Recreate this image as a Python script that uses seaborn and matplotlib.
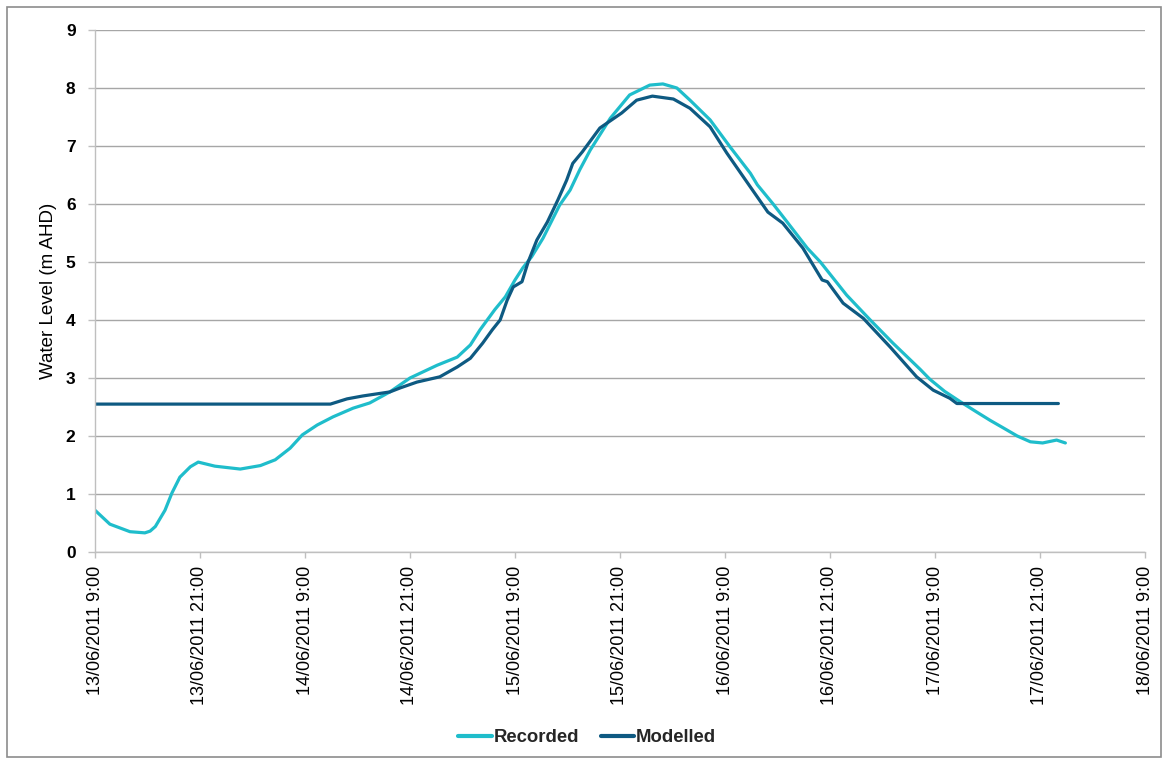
import matplotlib
matplotlib.use("Agg")
import matplotlib.pyplot as plt
import matplotlib.dates as mdates
from matplotlib.patches import Rectangle
from matplotlib.ticker import FuncFormatter
import numpy as np
import pandas as pd
import seaborn as sns

# Hours after 13/06/2011 9:00 and water level (m AHD)
recorded_hours = [0.0, 1.7, 4.0, 5.7, 6.3, 6.9, 8.0, 8.8, 9.7, 10.9, 11.8, 13.7,
                  16.6, 18.9, 20.6, 22.3, 23.7, 25.4, 27.2, 29.5, 31.4, 33.7,
                  36.0, 39.1, 41.4, 42.9, 44.0, 45.7, 46.9, 48.0, 48.9, 49.9,
                  51.2, 53.1, 54.3, 55.4, 56.6, 58.9, 61.1, 63.4, 64.9, 66.5,
                  68.0, 70.3, 72.6, 74.9, 75.7, 77.5, 79.1, 81.4, 82.9, 85.9,
                  88.6, 91.2, 94.3, 95.4, 97.1, 98.9, 100.8, 102.3, 103.8,
                  105.4, 106.9, 108.3, 109.9, 110.9]
recorded_level = [0.72, 0.48, 0.35, 0.33, 0.36, 0.44, 0.72, 1.02, 1.29, 1.47, 1.55, 1.48,
                  1.43, 1.49, 1.59, 1.79, 2.02, 2.19, 2.33, 2.48, 2.57, 2.76,
                  3.00, 3.22, 3.36, 3.57, 3.83, 4.18, 4.40, 4.69, 4.90, 5.09,
                  5.41, 5.98, 6.24, 6.59, 6.93, 7.48, 7.88, 8.05, 8.07, 8.00,
                  7.79, 7.45, 6.98, 6.53, 6.33, 6.00, 5.69, 5.24, 5.00, 4.43,
                  4.00, 3.60, 3.15, 2.98, 2.77, 2.59, 2.41, 2.27, 2.14,
                  2.00, 1.90, 1.88, 1.93, 1.88]

modelled_hours = [0.0, 26.9, 28.8, 30.6, 33.7, 34.9, 36.8, 39.4, 41.4, 42.9, 44.3,
                  45.4, 46.3, 47.1, 47.8, 48.8, 49.5, 50.5, 51.7, 52.9, 53.9,
                  54.6, 55.7, 57.7, 60.2, 61.9, 63.7, 66.1, 68.0, 70.3, 72.2,
                  74.5, 76.9, 78.6, 80.9, 83.1, 83.7, 85.5, 87.8, 90.9, 93.9,
                  95.8, 97.7, 98.5, 110.1]
modelled_level = [2.55, 2.55, 2.64, 2.69, 2.76, 2.83, 2.93, 3.02, 3.19, 3.34, 3.60,
                  3.83, 4.00, 4.34, 4.57, 4.66, 5.00, 5.38, 5.69, 6.07, 6.41,
                  6.70, 6.90, 7.31, 7.57, 7.79, 7.86, 7.81, 7.65, 7.33, 6.88,
                  6.38, 5.86, 5.67, 5.24, 4.69, 4.66, 4.29, 4.03, 3.53, 3.02,
                  2.79, 2.65, 2.56, 2.56]

series_names = ["Recorded", "Modelled"]
series_colors = ["#1FBDCB", "#0E5A82"]
y_ticks = list(range(0, 10))

start = pd.Timestamp("2011-06-13 09:00")
frames = []
for name, hrs, lvl in [("Recorded", recorded_hours, recorded_level),
                       ("Modelled", modelled_hours, modelled_level)]:
    frames.append(pd.DataFrame({
        "Time": start + pd.to_timedelta(hrs, unit="h"),
        "Level": lvl,
        "Series": name,
    }))
df = pd.concat(frames, ignore_index=True)

sns.set_theme(style="white")
plt.rcParams["font.family"] = ["Liberation Sans", "DejaVu Sans"]

fig = plt.figure(figsize=(11.63, 7.60), dpi=100)
ax = fig.add_axes([95 / 1163, 1 - 552 / 760, 1050 / 1163, 522 / 760])

sns.lineplot(data=df, x="Time", y="Level", hue="Series", hue_order=series_names,
             palette=series_colors, linewidth=2.3, ax=ax, legend=True, sort=False)

handles, labels = ax.get_legend_handles_labels()
ax.get_legend().remove()

# Axis limits and ticks
end = start + pd.Timedelta(hours=120)
ax.set_xlim(start, end)
ax.set_ylim(0, 9)
ax.set_yticks(y_ticks)
ax.xaxis.set_major_locator(mdates.HourLocator(byhour=[9, 21]))


def fmt_date(x, pos):
    d = mdates.num2date(x)
    return f"{d.day:02d}/{d.month:02d}/{d.year} {d.hour}:{d.minute:02d}"


ax.xaxis.set_major_formatter(FuncFormatter(fmt_date))

ax.tick_params(axis="x", which="major", direction="out", length=4, width=1,
               color="#BFBFBF", pad=6, labelsize=13, labelcolor="black", bottom=True)
ax.tick_params(axis="y", which="major", direction="out", length=5, width=1,
               color="#BFBFBF", pad=9, labelsize=12.5, labelcolor="black", left=True)
for lbl in ax.get_yticklabels():
    lbl.set_fontweight("bold")
for lbl in ax.get_xticklabels():
    lbl.set_rotation(90)
    lbl.set_ha("center")

ax.set_xlabel("")
ax.set_ylabel("Water Level (m AHD)", fontsize=13.5, color="black", labelpad=6)

ax.grid(axis="y", color="#A6A6A6", linewidth=1)
ax.grid(axis="x", visible=False)
ax.set_axisbelow(True)
for side in ["top", "right"]:
    ax.spines[side].set_visible(False)
for side in ["left", "bottom"]:
    ax.spines[side].set_color("#BFBFBF")
    ax.spines[side].set_linewidth(1)

leg = fig.legend(handles, labels, loc="center", bbox_to_anchor=(0.505, 1 - 738 / 760),
                 ncol=2, frameon=False, handlelength=1.8, handletextpad=0.1,
                 columnspacing=1.2, prop={"weight": "bold", "size": 13.3})
for line in leg.get_lines():
    line.set_linewidth(3)

# Outer chart border
fig.patches.append(Rectangle((7 / 1163, 3 / 760), 1154 / 1163, 750 / 760,
                             transform=fig.transFigure, fill=False,
                             edgecolor="#8C8C8C", linewidth=1.2))

fig.savefig("out.png", dpi=100)
